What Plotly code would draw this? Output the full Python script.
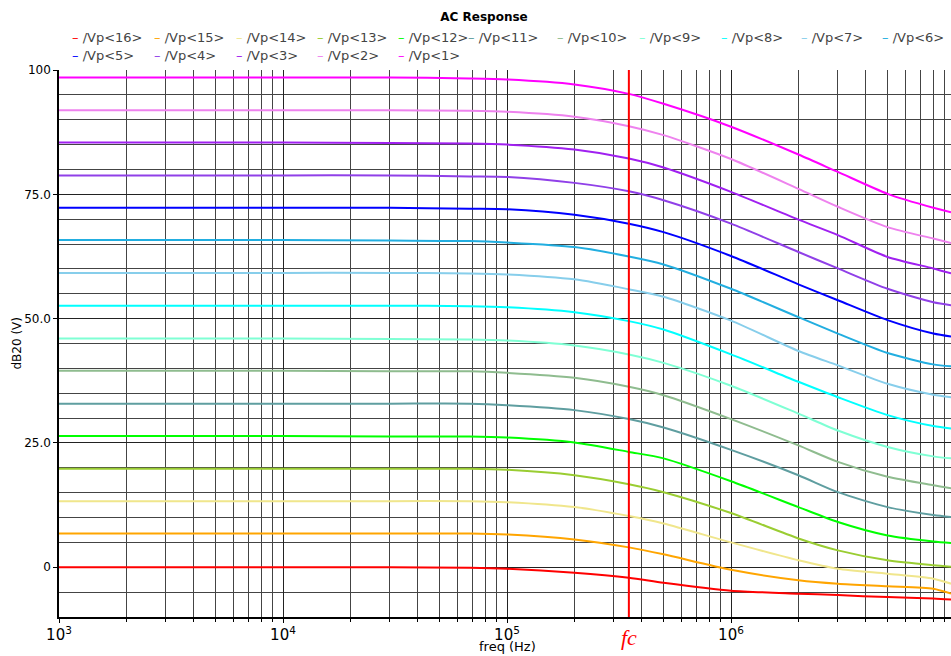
import numpy as np
import plotly.graph_objects as go

# ---------------- data ----------------
freq_hz = [1e3, 1e4, 3e4, 6.8e4, 1e5, 2e5, 3.5e5, 5e5, 1e6, 2e6, 3e6, 5e6, 8e6, 9.6e6]

vp1 = [98.5, 98.5, 98.5, 98.3, 98.1, 97.1, 95.2, 93.2, 88.6, 83.0, 79.5, 75.1, 72.3, 71.4]
vp2 = [91.9, 91.9, 91.9, 91.8, 91.6, 90.6, 88.7, 86.9, 82.1, 76.1, 72.5, 68.4, 66.1, 65.2]
vp3 = [85.4, 85.4, 85.3, 85.2, 85.0, 84.0, 82.2, 80.4, 75.5, 69.9, 66.8, 62.4, 60.1, 59.1]
vp4 = [78.8, 78.8, 78.8, 78.6, 78.5, 77.3, 75.6, 73.8, 69.1, 63.4, 60.1, 56.0, 53.3, 52.7]
vp5 = [72.3, 72.3, 72.3, 72.1, 72.0, 70.9, 69.1, 67.4, 62.6, 56.9, 53.7, 49.7, 47.0, 46.4]
vp6 = [65.8, 65.8, 65.7, 65.6, 65.3, 64.4, 62.5, 60.9, 56.0, 50.3, 47.0, 43.1, 40.8, 40.4]
vp7 = [59.2, 59.2, 59.2, 59.1, 58.9, 57.9, 55.9, 54.4, 49.6, 43.5, 40.6, 36.9, 34.7, 34.2]
vp8 = [52.6, 52.6, 52.6, 52.5, 52.3, 51.3, 49.5, 47.8, 42.8, 37.3, 34.2, 30.6, 28.4, 27.9]
vp9 = [46.0, 46.0, 45.9, 45.8, 45.6, 44.6, 42.8, 41.1, 36.5, 30.9, 27.5, 24.2, 22.3, 21.9]
vp10 = [39.5, 39.5, 39.4, 39.4, 39.1, 38.1, 36.3, 34.6, 29.8, 24.5, 21.2, 18.2, 16.5, 15.9]
vp11 = [32.9, 32.9, 32.9, 32.9, 32.6, 31.6, 29.8, 28.1, 23.6, 18.5, 15.1, 12.1, 10.5, 10.1]
vp12 = [26.4, 26.4, 26.3, 26.3, 26.1, 25.1, 23.2, 21.9, 17.3, 12.1, 9.1, 6.4, 5.2, 4.9]
vp13 = [19.8, 19.8, 19.8, 19.8, 19.6, 18.5, 16.7, 15.1, 10.9, 5.8, 3.4, 1.4, 0.4, 0.1]
vp14 = [13.3, 13.3, 13.3, 13.3, 13.1, 12.1, 10.3, 8.8, 5.0, 1.4, -0.3, -1.3, -2.3, -3.3]
vp15 = [6.8, 6.8, 6.8, 6.8, 6.6, 5.6, 4.0, 2.6, -0.5, -2.6, -3.3, -3.8, -4.3, -5.3]
vp16 = [0.0, 0.0, 0.0, -0.1, -0.3, -1.1, -2.1, -3.1, -4.7, -5.3, -5.6, -6.0, -6.3, -6.5]

series_names = ["/Vp<16>", "/Vp<15>", "/Vp<14>", "/Vp<13>", "/Vp<12>", "/Vp<11>",
                "/Vp<10>", "/Vp<9>", "/Vp<8>", "/Vp<7>", "/Vp<6>",
                "/Vp<5>", "/Vp<4>", "/Vp<3>", "/Vp<2>", "/Vp<1>"]
series_values = [vp16, vp15, vp14, vp13, vp12, vp11, vp10, vp9, vp8, vp7, vp6,
                 vp5, vp4, vp3, vp2, vp1]
series_colors = ["#ff0000", "#ffa500", "#f0e68c", "#9acd32", "#00ff00", "#5f9ea0",
                 "#8fbc8f", "#7fffd4", "#00ffff", "#87ceeb", "#22aee0",
                 "#0000ff", "#9040e8", "#a020f0", "#ee82ee", "#ff00ff"]

y_tickvals = [0, 25, 50, 75, 100]
y_ticktext = ["0", "25.0", "50.0", "75.0", "100"]

fc_hz = 3.5e5

# ---------------- layout constants ----------------
W, H = 951, 656
L, R, T, B = 59, 0, 70, 39
decade_px = 224.0
plot_w = W - L - R
plot_h = H - T - B
x_max_log = 3 + plot_w / decade_px

# legend grid (text start x in px, row centre y in px)
legend_cols_px = [83, 165, 247, 328, 409, 479, 568, 650, 732, 812, 893]
legend_rows_px = [37.5, 55]

fig = go.Figure()

for name, vals, col in zip(series_names, series_values, series_colors):
    fig.add_trace(go.Scatter(
        x=freq_hz, y=vals, name=name, mode="lines",
        line=dict(color=col, width=2, shape="spline", smoothing=0.7),
        showlegend=False, hoverinfo="skip",
    ))

# fc marker line
fig.add_trace(go.Scatter(
    x=[fc_hz, fc_hz], y=[-10, 100], mode="lines",
    line=dict(color="#ff0000", width=2), showlegend=False, hoverinfo="skip",
))

grid_major = "#222222"
grid_minor = "#444444"

fig.update_layout(
    width=W, height=H,
    margin=dict(l=L, r=R, t=T, b=B, autoexpand=False),
    paper_bgcolor="white", plot_bgcolor="white",
    font=dict(family="DejaVu Sans", size=12, color="black"),
    title=dict(text="<b>AC Response</b>", x=484 / W, xref="container", xanchor="center",
               y=1 - 17 / H, yref="container", yanchor="middle",
               font=dict(size=12, color="black")),
    showlegend=False,
)

fig.update_xaxes(
    type="log", range=[3, x_max_log], dtick=1, exponentformat="power",
    showgrid=True, gridcolor=grid_major, gridwidth=1,
    ticks="outside", ticklen=4, tickcolor="black",
    showline=True, linecolor="black", linewidth=2, zeroline=False,
    tickfont=dict(size=12, color="black"),
    minor=dict(dtick="D1", showgrid=True, gridcolor=grid_minor, gridwidth=1,
               ticks="outside", ticklen=3, tickcolor="black"),
)
fig.update_yaxes(
    range=[-10, 100], tickvals=y_tickvals, ticktext=y_ticktext,
    showgrid=True, gridcolor=grid_major, gridwidth=1,
    ticks="outside", ticklen=4, tickcolor="black",
    showline=True, linecolor="black", linewidth=1.5, zeroline=False,
    tickfont=dict(size=12, color="black"),
    minor=dict(dtick=5, tick0=0, showgrid=True, gridcolor=grid_minor, gridwidth=1),
)

# legend drawn as text entries (short coloured dash + name)
for i, (name, col) in enumerate(zip(series_names, series_colors)):
    row = 0 if i < 11 else 1
    colx = i if i < 11 else i - 11
    tx = legend_cols_px[colx] - 13.5
    ty = legend_rows_px[row]
    label = name.replace("<", "&lt;").replace(">", "&gt;")
    fig.add_annotation(
        text=f"<span style='color:{col}'>–</span> {label}",
        xref="paper", yref="paper",
        x=(tx - L) / plot_w, y=1 + (T - ty) / plot_h,
        xanchor="left", yanchor="middle", showarrow=False,
        font=dict(size=13, color="#444444"),
    )

fig.add_annotation(text="dB20 (V)", textangle=-90, xref="paper", yref="paper",
                   x=(16 - L) / plot_w, y=0.5, showarrow=False,
                   xanchor="center", yanchor="middle", font=dict(size=12, color="black"))
fig.add_annotation(text="freq (Hz)", xref="paper", yref="paper",
                   x=(507 - L) / plot_w, y=-(646 - (H - B)) / plot_h, showarrow=False,
                   xanchor="center", yanchor="middle", font=dict(size=13, color="black"))
fig.add_annotation(text="<i>fc</i>", xref="x", yref="paper",
                   x=np.log10(fc_hz), y=-(637 - (H - B)) / plot_h, showarrow=False,
                   xanchor="center", yanchor="middle",
                   font=dict(family="Liberation Serif", size=22, color="#ff0000"))

fig.write_html(
    "out.html",
    config={"displayModeBar": False},
    post_script="document.body.style.margin='0px';document.body.style.overflow='hidden';",
)
